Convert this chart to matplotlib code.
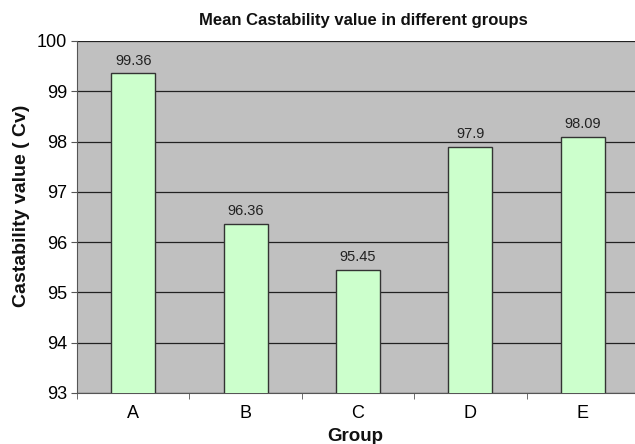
import matplotlib
matplotlib.use('Agg')
import matplotlib.pyplot as plt
import numpy as np

groups = ['A', 'B', 'C', 'D', 'E']
castability = [99.36, 96.36, 95.45, 97.9, 98.09]
value_labels = ['99.36', '96.36', '95.45', '97.9', '98.09']
y_ticks = [93, 94, 95, 96, 97, 98, 99, 100]

plt.rcParams['font.family'] = ['Liberation Sans', 'DejaVu Sans']

fig = plt.figure(figsize=(6.35, 4.44), dpi=100)
ax = fig.add_axes([0.1213, 0.1149, 0.885, 0.7928])
ax.set_facecolor('#c0c0c0')

x = np.arange(len(groups))
ax.bar(x, castability, width=0.39, color='#ccffcc',
       edgecolor='#333333', linewidth=1.0, zorder=3)

for xi, val, lab in zip(x, castability, value_labels):
    ax.annotate(lab, (xi, val), xytext=(0, 4), textcoords='offset points',
                ha='center', va='bottom', fontsize=10.5, color='#222222')

ax.set_ylim(93, 100)
ax.set_xlim(-0.5, len(groups) - 0.5)
ax.set_yticks(y_ticks)
ax.set_yticklabels([str(t) for t in y_ticks], fontsize=13)
ax.yaxis.grid(True, color='#222222', linewidth=0.9, zorder=1)
ax.set_axisbelow(True)

ax.set_xticks(x)
ax.set_xticklabels(groups, fontsize=13)
ax.set_xticks(np.arange(len(groups) + 1) - 0.5, minor=True)
ax.tick_params(axis='x', which='major', length=0, pad=9)
ax.tick_params(axis='x', which='minor', length=4, color='#555555')
ax.tick_params(axis='y', length=4, color='#555555', pad=3)

for side in ['top', 'right']:
    ax.spines[side].set_visible(False)
ax.spines['left'].set_color('#555555')
ax.spines['bottom'].set_color('#555555')

fig.text(363 / 635, 1 - 20 / 444, 'Mean Castability value in different groups',
         fontsize=12, fontweight='bold', ha='center', va='center', color='#111111')
fig.text(355 / 635, 1 - 436 / 444, 'Group', fontsize=13.5, fontweight='bold',
         ha='center', va='center', color='#111111')
fig.text(22 / 635, 1 - 206 / 444, 'Castability value ( Cv)', fontsize=14,
         fontweight='bold', rotation=90, ha='center', va='center', color='#111111')

fig.savefig('out.png', dpi=100)
plt.close(fig)
